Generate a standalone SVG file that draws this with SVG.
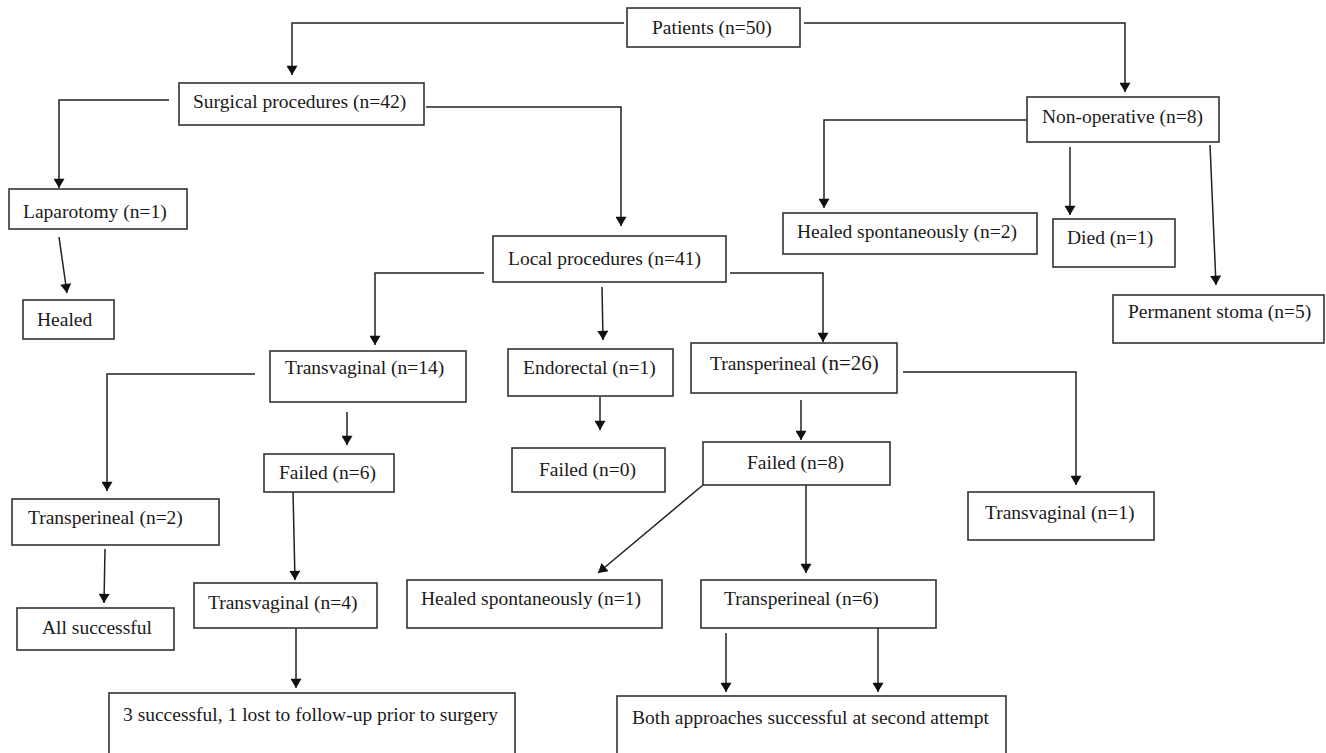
<svg xmlns="http://www.w3.org/2000/svg" width="1326" height="753" viewBox="0 0 1326 753">
<style>
.box rect{fill:#fff;stroke:#333;stroke-width:1.6}
.box text{font-family:"Liberation Serif","Times New Roman",serif;font-size:19.5px;fill:#1a1a1a}
.big{font-size:21px}
#connectors path{fill:none;stroke:#222;stroke-width:1.5;marker-end:url(#arr)}
</style>
<defs>
<marker id="arr" viewBox="0 0 10 12" refX="10" refY="6" markerWidth="12" markerHeight="11" markerUnits="userSpaceOnUse" orient="auto">
<path d="M0,0 L10,6 L0,12 z" fill="#111"/>
</marker>
</defs>
<rect width="1326" height="753" fill="#fff"/>
<g id="connectors">
<path d="M624,23 H292 V75"/>
<path d="M804,23 H1125 V92"/>
<path d="M169,100 H59 V188"/>
<path d="M426,107 H621 V226"/>
<path d="M59,237 L67,293"/>
<path d="M484,273 H375 V345"/>
<path d="M602,287 L603,340"/>
<path d="M730,273 H823 V342"/>
<path d="M255,374 H107 V491"/>
<path d="M347,412 V445"/>
<path d="M600,397 V430"/>
<path d="M801,400 V440"/>
<path d="M903,372 H1076 V485"/>
<path d="M105,549 L104,603"/>
<path d="M293,491 L295,580"/>
<path d="M703,485 L598,573"/>
<path d="M806,485 V573"/>
<path d="M296,624 V688"/>
<path d="M726,633 V692"/>
<path d="M878,628 V692"/>
<path d="M1027,120 H824 V208"/>
<path d="M1070,147 V215"/>
<path d="M1210,145 L1216,285"/>
</g>
<g id="patients" class="box"><rect x="627" y="8" width="173" height="39"/><text x="652" y="34">Patients (n=50)</text></g>
<g id="surgical" class="box"><rect x="179" y="83" width="245" height="42"/><text x="193" y="108">Surgical procedures (n=42)</text></g>
<g id="nonoperative" class="box"><rect x="1027" y="97" width="192" height="45"/><text x="1042" y="123">Non-operative (n=8)</text></g>
<g id="laparotomy" class="box"><rect x="9" y="189" width="178" height="40"/><text x="23" y="218">Laparotomy (n=1)</text></g>
<g id="healed" class="box"><rect x="23" y="300" width="91" height="39"/><text x="37" y="326">Healed</text></g>
<g id="local" class="box"><rect x="493" y="236" width="233" height="46"/><text x="508" y="265">Local procedures (n=41)</text></g>
<g id="healed-spont-2" class="box"><rect x="783" y="213" width="254" height="41"/><text x="797" y="238">Healed spontaneously (n=2)</text></g>
<g id="died" class="box"><rect x="1053" y="219" width="122" height="48"/><text x="1067" y="244">Died (n=1)</text></g>
<g id="stoma" class="box"><rect x="1113" y="295" width="211" height="48"/><text x="1128" y="318">Permanent stoma (n=5)</text></g>
<g id="transvaginal-14" class="box"><rect x="270" y="351" width="196" height="51"/><text x="285" y="374">Transvaginal (n=14)</text></g>
<g id="endorectal" class="box"><rect x="508" y="349" width="165" height="47"/><text x="523" y="374">Endorectal (n=1)</text></g>
<g id="transperineal-26" class="box"><rect x="691" y="343" width="206" height="50"/><text x="710" y="370">Transperineal <tspan class="big">(n=26)</tspan></text></g>
<g id="failed-6" class="box"><rect x="264" y="454" width="130" height="38"/><text x="279" y="479">Failed (n=6)</text></g>
<g id="failed-0" class="box"><rect x="512" y="448" width="153" height="44"/><text x="539" y="476">Failed (n=0)</text></g>
<g id="failed-8" class="box"><rect x="703" y="442" width="187" height="43"/><text x="747" y="469">Failed (n=8)</text></g>
<g id="transvaginal-1" class="box"><rect x="968" y="492" width="186" height="48"/><text x="985" y="519">Transvaginal (n=1)</text></g>
<g id="transperineal-2" class="box"><rect x="12" y="499" width="207" height="46"/><text x="28" y="524">Transperineal (n=2)</text></g>
<g id="all-successful" class="box"><rect x="17" y="608" width="157" height="42"/><text x="42" y="634">All successful</text></g>
<g id="transvaginal-4" class="box"><rect x="194" y="583" width="183" height="45"/><text x="208" y="609">Transvaginal (n=4)</text></g>
<g id="healed-spont-1" class="box"><rect x="407" y="580" width="255" height="48"/><text x="421" y="605">Healed spontaneously (n=1)</text></g>
<g id="transperineal-6" class="box"><rect x="701" y="580" width="235" height="48"/><text x="724" y="605">Transperineal (n=6)</text></g>
<g id="three-successful" class="box"><rect x="109" y="693" width="406" height="70"/><text x="123" y="721">3 successful, 1 lost to follow-up prior to surgery</text></g>
<g id="both-successful" class="box"><rect x="617" y="696" width="389" height="70"/><text x="632" y="724">Both approaches successful at second attempt</text></g>
</svg>
